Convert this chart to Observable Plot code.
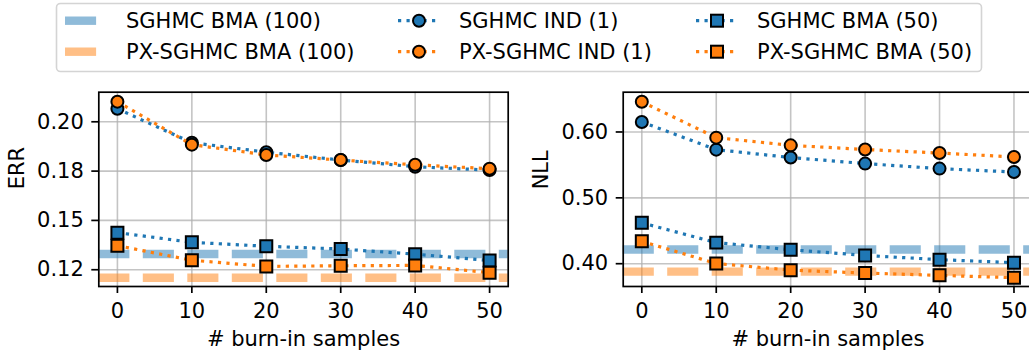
<!DOCTYPE html>
<html>
<head>
<meta charset="utf-8">
<script src="https://cdn.jsdelivr.net/npm/d3@7"></script>
<script src="https://cdn.jsdelivr.net/npm/@observablehq/plot@0.6"></script>
<style>
  html, body { margin: 0; padding: 0; background: #fff; }
  #fig { position: relative; width: 1029px; height: 351px; overflow: hidden; font-family: "DejaVu Sans", sans-serif; }
  #legend { position: absolute; left: 0; top: 0; }
  #left, #right { position: absolute; top: 80px; }
  #left { left: 0; width: 560px; }
  #right { left: 560px; width: 483px; }
  #left svg, #right svg { max-width: none !important; }
</style>
</head>
<body>
<div id="fig">
  <svg id="legend" width="1029" height="80"></svg>
  <div id="left"></div>
  <div id="right"></div>
</div>
<script>
// ---------------- data ----------------
const burnIn = [0, 10, 20, 30, 40, 50];
const xTicks = [0, 10, 20, 30, 40, 50];
const xLabel = "# burn-in samples";

// ERR panel
const errSghmcInd   = [0.2066, 0.1894, 0.1846, 0.1806, 0.1772, 0.1755];
const errPxInd      = [0.2102, 0.1884, 0.1832, 0.1806, 0.1782, 0.1762];
const errSghmcBma50 = [0.1438, 0.1389, 0.1369, 0.1355, 0.1329, 0.1297];
const errPxBma50    = [0.1372, 0.1298, 0.1267, 0.1270, 0.1272, 0.1235];
const errSghmcBma100 = 0.1330;
const errPxBma100    = 0.1209;
const errTicks = [0.125, 0.15, 0.175, 0.2];
const errTickLabels = ["0.12", "0.15", "0.18", "0.20"];

// NLL panel
const nllSghmcInd   = [0.6152, 0.5732, 0.5612, 0.5520, 0.5444, 0.5392];
const nllPxInd      = [0.6458, 0.5914, 0.5797, 0.5734, 0.5680, 0.5621];
const nllSghmcBma50 = [0.4620, 0.4320, 0.4212, 0.4126, 0.4061, 0.4016];
const nllPxBma50    = [0.4340, 0.4002, 0.3902, 0.3858, 0.3823, 0.3788];
const nllSghmcBma100 = 0.4215;
const nllPxBma100    = 0.3880;
const nllTicks = [0.4, 0.5, 0.6];
const nllTickLabels = ["0.40", "0.50", "0.60"];

const seriesNames = ["SGHMC BMA (100)", "PX-SGHMC BMA (100)", "SGHMC IND (1)", "PX-SGHMC IND (1)", "SGHMC BMA (50)", "PX-SGHMC BMA (50)"];
const blue = "#1f77b4", orange = "#ff7f0e";

// ---------------- styles ----------------
const FONT = 21;
const gridStyle = {stroke: "#b0b0b0", strokeWidth: 1.6, strokeOpacity: 0.75};
const dotted = {strokeWidth: 3.2, strokeDasharray: "3.2,5.3", strokeLinecap: "butt"};
const dashed = {strokeWidth: 8.4, strokeDasharray: "31.1,13.4", strokeOpacity: 0.5, strokeLinecap: "butt"};
const markerStroke = {stroke: "black", strokeWidth: 2};
const R_CIRCLE = 6, R_SQUARE = 6.77;

function rows(vals) { return burnIn.map((x, i) => ({x, y: vals[i]})); }

function panel({yLabel, yDomain, yTicks, yTickLabels, sInd, pInd, sB50, pB50, sB100, pB100, marginLeft, width, marginRight}) {
  const S1 = rows(sInd), P1 = rows(pInd), S50 = rows(sB50), P50 = rows(pB50);
  return Plot.plot({
    width, height: 271,
    marginLeft, marginRight, marginTop: 11.7, marginBottom: 65,
    style: {fontFamily: "DejaVu Sans", fontSize: FONT + "px", color: "black", background: "transparent", overflow: "visible", maxWidth: "none"},
    x: {domain: [-2.5, 52.5]},
    y: {domain: yDomain},
    marks: [
      Plot.gridX(xTicks, gridStyle),
      Plot.gridY(yTicks, gridStyle),
      Plot.ruleY([sB100], {stroke: blue, ...dashed}),
      Plot.ruleY([pB100], {stroke: orange, ...dashed}),
      Plot.lineY(S1, {x: "x", y: "y", stroke: blue, ...dotted}),
      Plot.dot(S1, {x: "x", y: "y", symbol: "circle", r: R_CIRCLE, fill: blue, ...markerStroke}),
      Plot.lineY(P1, {x: "x", y: "y", stroke: orange, ...dotted}),
      Plot.dot(P1, {x: "x", y: "y", symbol: "circle", r: R_CIRCLE, fill: orange, ...markerStroke}),
      Plot.lineY(S50, {x: "x", y: "y", stroke: blue, ...dotted}),
      Plot.dot(S50, {x: "x", y: "y", symbol: "square", r: R_SQUARE, fill: blue, ...markerStroke}),
      Plot.lineY(P50, {x: "x", y: "y", stroke: orange, ...dotted}),
      Plot.dot(P50, {x: "x", y: "y", symbol: "square", r: R_SQUARE, fill: orange, ...markerStroke}),
      Plot.frame({stroke: "black", strokeWidth: 1.7}),
      Plot.axisY(yTicks, {tickSize: 7, tickPadding: 8, strokeWidth: 1.7, fontSize: FONT, label: null,
        tickFormat: d => yTickLabels[yTicks.indexOf(d)]}),
      Plot.axisX(xTicks, {tickSize: 7, tickPadding: 10, strokeWidth: 1.7, fontSize: FONT, label: null,
        tickFormat: d => String(d)}),
      Plot.text([yLabel], {frameAnchor: "left", dx: -82, rotate: -90, fontSize: FONT, text: d => d}),
      Plot.text([xLabel], {frameAnchor: "bottom", dy: 45, lineAnchor: "top", fontSize: FONT, text: d => d})
    ]
  });
}

document.getElementById("left").append(panel({
  yLabel: "ERR", yDomain: [0.1165, 0.215], yTicks: errTicks, yTickLabels: errTickLabels,
  sInd: errSghmcInd, pInd: errPxInd, sB50: errSghmcBma50, pB50: errPxBma50,
  sB100: errSghmcBma100, pB100: errPxBma100,
  marginLeft: 98.3, width: 560, marginRight: 52.3
}));

document.getElementById("right").append(panel({
  yLabel: "NLL", yDomain: [0.3654, 0.6604], yTicks: nllTicks, yTickLabels: nllTickLabels,
  sInd: nllSghmcInd, pInd: nllPxInd, sB50: nllSghmcBma50, pB50: nllPxBma50,
  sB100: nllSghmcBma100, pB100: nllPxBma100,
  marginLeft: 62.7, width: 482.1, marginRight: 10
}));

// ---------------- legend ----------------
const NS = "http://www.w3.org/2000/svg";
const leg = document.getElementById("legend");
function el(tag, attrs, parent = leg) {
  const e = document.createElementNS(NS, tag);
  for (const k in attrs) e.setAttribute(k, attrs[k]);
  parent.appendChild(e);
  return e;
}
el("rect", {x: 56.5, y: 3.5, width: 925, height: 68, rx: 4, fill: "white", stroke: "#d4d4d4", "stroke-width": 1.6});
const rowY = [20.7, 51.7];
const colHandle = [65, 398, 696];
const colText = [126, 459, 757];
const legendItems = [
  {name: seriesNames[0], color: blue,   kind: "dash", col: 0, row: 0},
  {name: seriesNames[1], color: orange, kind: "dash", col: 0, row: 1},
  {name: seriesNames[2], color: blue,   kind: "circle", col: 1, row: 0},
  {name: seriesNames[3], color: orange, kind: "circle", col: 1, row: 1},
  {name: seriesNames[4], color: blue,   kind: "square", col: 2, row: 0},
  {name: seriesNames[5], color: orange, kind: "square", col: 2, row: 1}
];
for (const it of legendItems) {
  const y = rowY[it.row], x0 = colHandle[it.col], x1 = x0 + 42, xm = x0 + 21;
  if (it.kind === "dash") {
    el("line", {x1: x0, x2: x1, y1: y, y2: y, stroke: it.color, "stroke-width": 8.4, "stroke-opacity": 0.5, "stroke-dasharray": "31.1,13.4"});
  } else {
    el("line", {x1: x0, x2: x1, y1: y, y2: y, stroke: it.color, "stroke-width": 3.2, "stroke-dasharray": "3.2,5.3"});
    if (it.kind === "circle") el("circle", {cx: xm, cy: y, r: R_CIRCLE, fill: it.color, stroke: "black", "stroke-width": 2});
    else el("rect", {x: xm - 6, y: y - 6, width: 12, height: 12, fill: it.color, stroke: "black", "stroke-width": 2});
  }
  const t = el("text", {x: colText[it.col], y: y, dy: "0.36em", "font-family": "DejaVu Sans", "font-size": FONT, fill: "black"});
  t.textContent = it.name;
}
</script>
</body>
</html>
